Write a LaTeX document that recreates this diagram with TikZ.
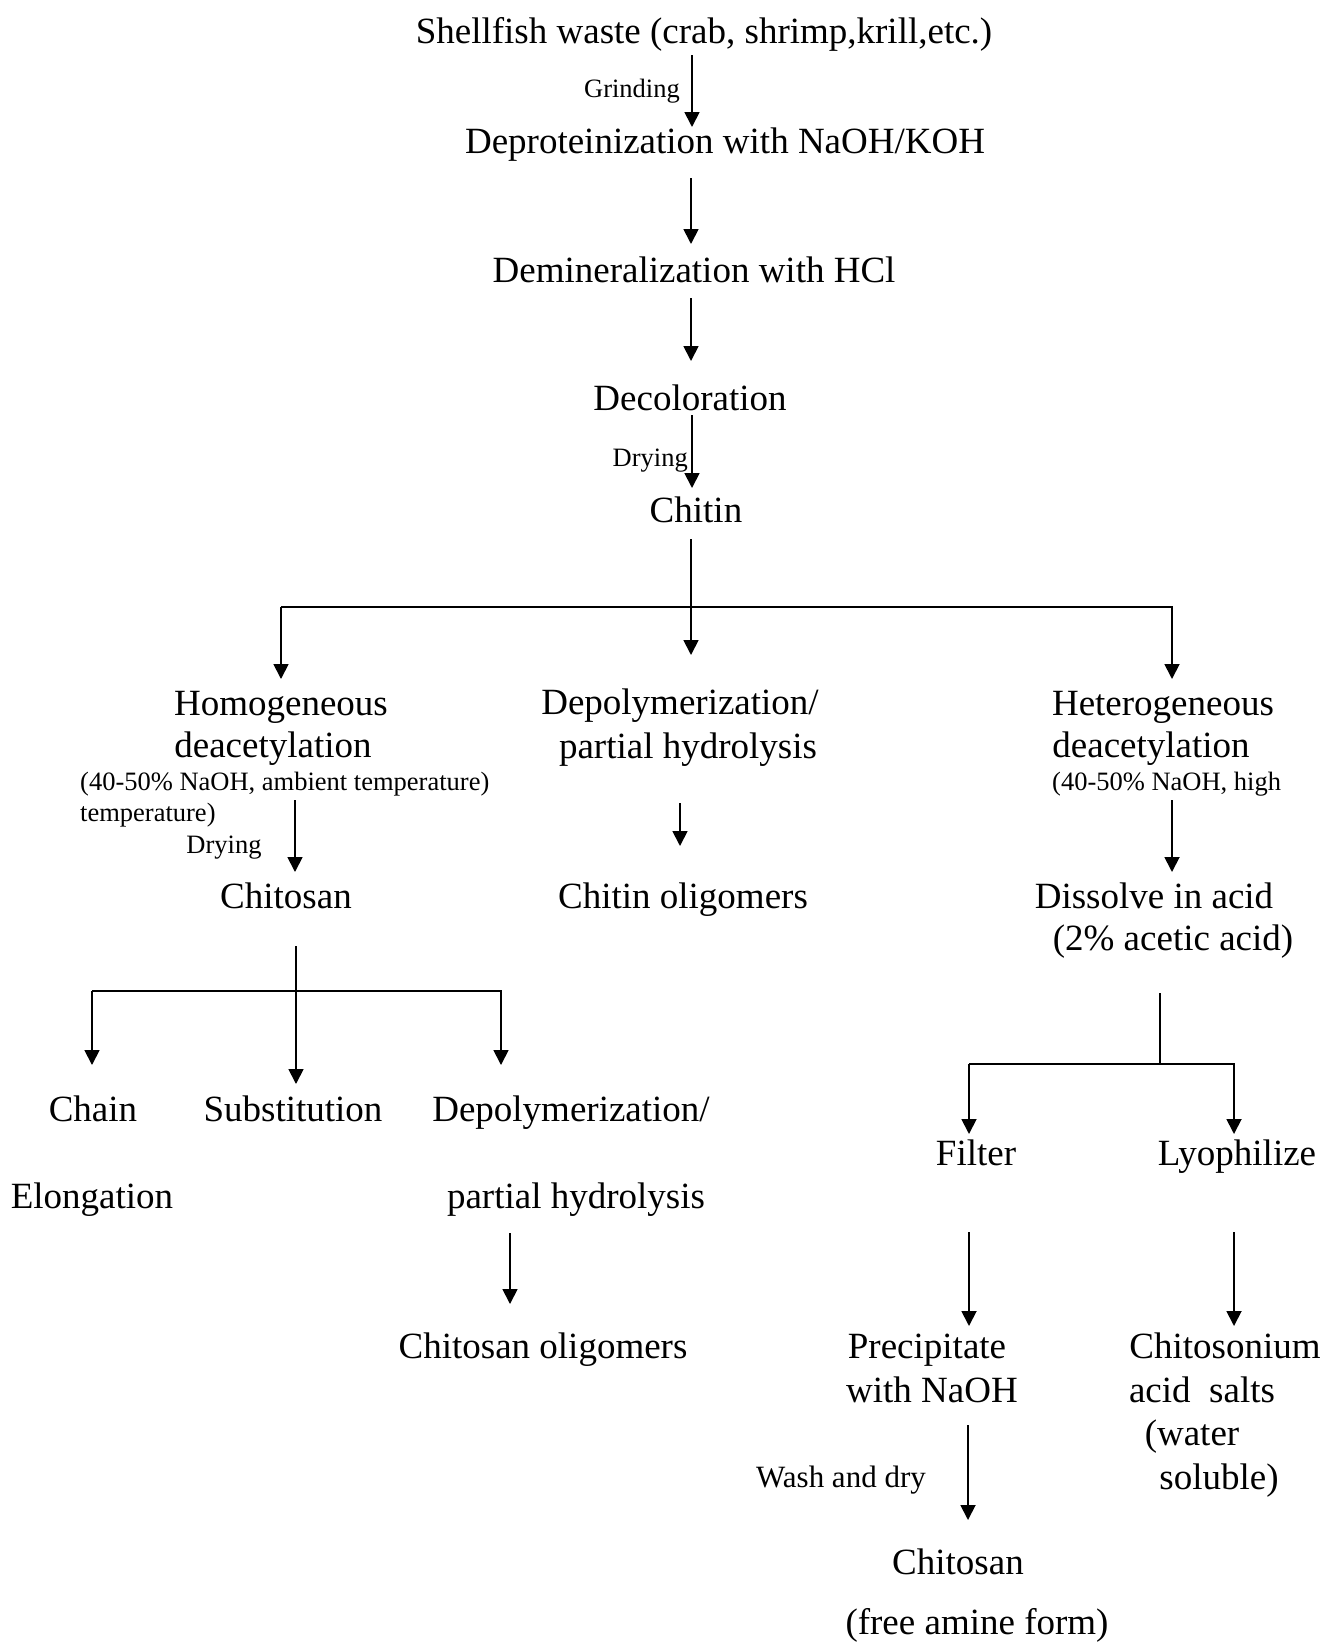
\documentclass[tikz,border=0pt]{standalone}
\usepackage{fontspec}
\setmainfont{Liberation Serif}
\usetikzlibrary{arrows.meta}
\begin{document}
\begin{tikzpicture}[x=1pt,y=-1pt,
  big/.style={font=\fontsize{37}{40}\selectfont,inner sep=0pt,text height=24pt,text depth=0pt},
  small/.style={font=\fontsize{26.5}{29}\selectfont,inner sep=0pt,text height=16pt,text depth=0pt},
  conn/.style={line width=1.8pt},
  arr/.style={line width=1.8pt,-{Triangle[length=15pt,width=15pt]}}]
\useasboundingbox (0,0) rectangle (1326,1642);
% texts
\node[big] (shell) at (704,31) {Shellfish waste (crab, shrimp,krill,etc.)};
\node[small,anchor=east] (grind) at (680,89) {Grinding};
\node[big] (deprot) at (725,141) {Deproteinization with NaOH/KOH};
\node[big] (demin) at (694,270) {Demineralization with HCl};
\node[big] (decol) at (690,398) {Decoloration};
\node[small,anchor=east] (dry1) at (688,458) {Drying};
\node[big] (chitin) at (696,510) {Chitin};
\node[big] (homo1) at (281,703) {Homogeneous};
\node[big] (homo2) at (273,745) {deacetylation};
\node[small,anchor=west] (homocond) at (80,782) {(40-50\% NaOH, ambient temperature)};
\node[small,anchor=west] (homotemp) at (80,813) {temperature)};
\node[small] (dry2) at (224,845) {Drying};
\node[big] (chitosan) at (286,896) {Chitosan};
\node[big] (depol1) at (680,702) {Depolymerization/};
\node[big] (depol2) at (688,746) {partial hydrolysis};
\node[big] (chitolig) at (683,896) {Chitin oligomers};
\node[big] (het1) at (1163,703) {Heterogeneous};
\node[big] (het2) at (1151,745) {deacetylation};
\node[small,anchor=west] (hetcond) at (1052,782) {(40-50\% NaOH, high};
\node[big] (dissolve) at (1154,896) {Dissolve in acid};
\node[big] (acetic) at (1173,938) {(2\% acetic acid)};
\node[big] (chain) at (93,1109) {Chain};
\node[big] (subst) at (293,1109) {Substitution};
\node[big] (depol3) at (571,1109) {Depolymerization/};
\node[big] (elong) at (92,1196) {Elongation};
\node[big] (depol4) at (576,1196) {partial hydrolysis};
\node[big] (chitosanolig) at (543,1346) {Chitosan oligomers};
\node[big] (filter) at (976,1153) {Filter};
\node[big] (lyo) at (1237,1153) {Lyophilize};
\node[big] (precip1) at (927,1346) {Precipitate};
\node[big] (precip2) at (932,1390) {with NaOH};
\node[big] (salt1) at (1225,1346) {Chitosonium};
\node[big] (salt2) at (1202,1390) {acid\ \ salts};
\node[big] (salt3) at (1192,1433) {(water};
\node[big] (salt4) at (1219,1477) {soluble)};
\node[small,font=\fontsize{31}{34}\selectfont,text height=20pt] (wash) at (841,1477) {Wash and dry};
\node[big] (chitosan2) at (958,1562) {Chitosan};
\node[big] (freeamine) at (977,1622) {(free amine form)};
% connector points
\coordinate (a1s) at (692,55);   \coordinate (a1e) at (692,127);
\coordinate (a2s) at (691,178);  \coordinate (a2e) at (691,244);
\coordinate (a3s) at (691,298);  \coordinate (a3e) at (691,361);
\coordinate (a4s) at (692,415);  \coordinate (a4e) at (692,488);
\coordinate (a5s) at (691,539);  \coordinate (a5e) at (691,655);
\coordinate (b1l) at (281,607);  \coordinate (b1r) at (1172,607);
\coordinate (b1le) at (281,679); \coordinate (b1re) at (1172,679);
\coordinate (m1s) at (680,803);  \coordinate (m1e) at (680,846);
\coordinate (h1s) at (295,800);  \coordinate (h1e) at (295,872);
\coordinate (t1s) at (1172,800); \coordinate (t1e) at (1172,872);
\coordinate (c1s) at (296,946);  \coordinate (c1e) at (296,1084);
\coordinate (b2l) at (92,991);   \coordinate (b2r) at (501,991);
\coordinate (b2le) at (92,1065); \coordinate (b2re) at (501,1065);
\coordinate (p1s) at (510,1233); \coordinate (p1e) at (510,1304);
\coordinate (d1s) at (1160,993); \coordinate (d1e) at (1160,1064);
\coordinate (b3l) at (969,1064); \coordinate (b3r) at (1234,1064);
\coordinate (b3le) at (969,1134); \coordinate (b3re) at (1234,1134);
\coordinate (f1s) at (969,1232); \coordinate (f1e) at (969,1326);
\coordinate (l1s) at (1234,1232); \coordinate (l1e) at (1234,1326);
\coordinate (w1s) at (968,1425); \coordinate (w1e) at (968,1520);
% connectors
\draw[arr] (a1s) -- (a1e);
\draw[arr] (a2s) -- (a2e);
\draw[arr] (a3s) -- (a3e);
\draw[arr] (a4s) -- (a4e);
\draw[arr] (a5s) -- (a5e);
\draw[arr] (b1l |- b1r) -- (b1r) -- (b1re);
\draw[arr] (b1l) -- (b1le);
\draw[arr] (m1s) -- (m1e);
\draw[arr] (h1s) -- (h1e);
\draw[arr] (t1s) -- (t1e);
\draw[arr] (c1s) -- (c1e);
\draw[arr] (b2l |- b2r) -- (b2r) -- (b2re);
\draw[arr] (b2l) -- (b2le);
\draw[arr] (p1s) -- (p1e);
\draw[conn] (d1s) -- (d1e);
\draw[arr] (b3l |- b3r) -- (b3r) -- (b3re);
\draw[arr] (b3l) -- (b3le);
\draw[arr] (f1s) -- (f1e);
\draw[arr] (l1s) -- (l1e);
\draw[arr] (w1s) -- (w1e);
\end{tikzpicture}
\end{document}
